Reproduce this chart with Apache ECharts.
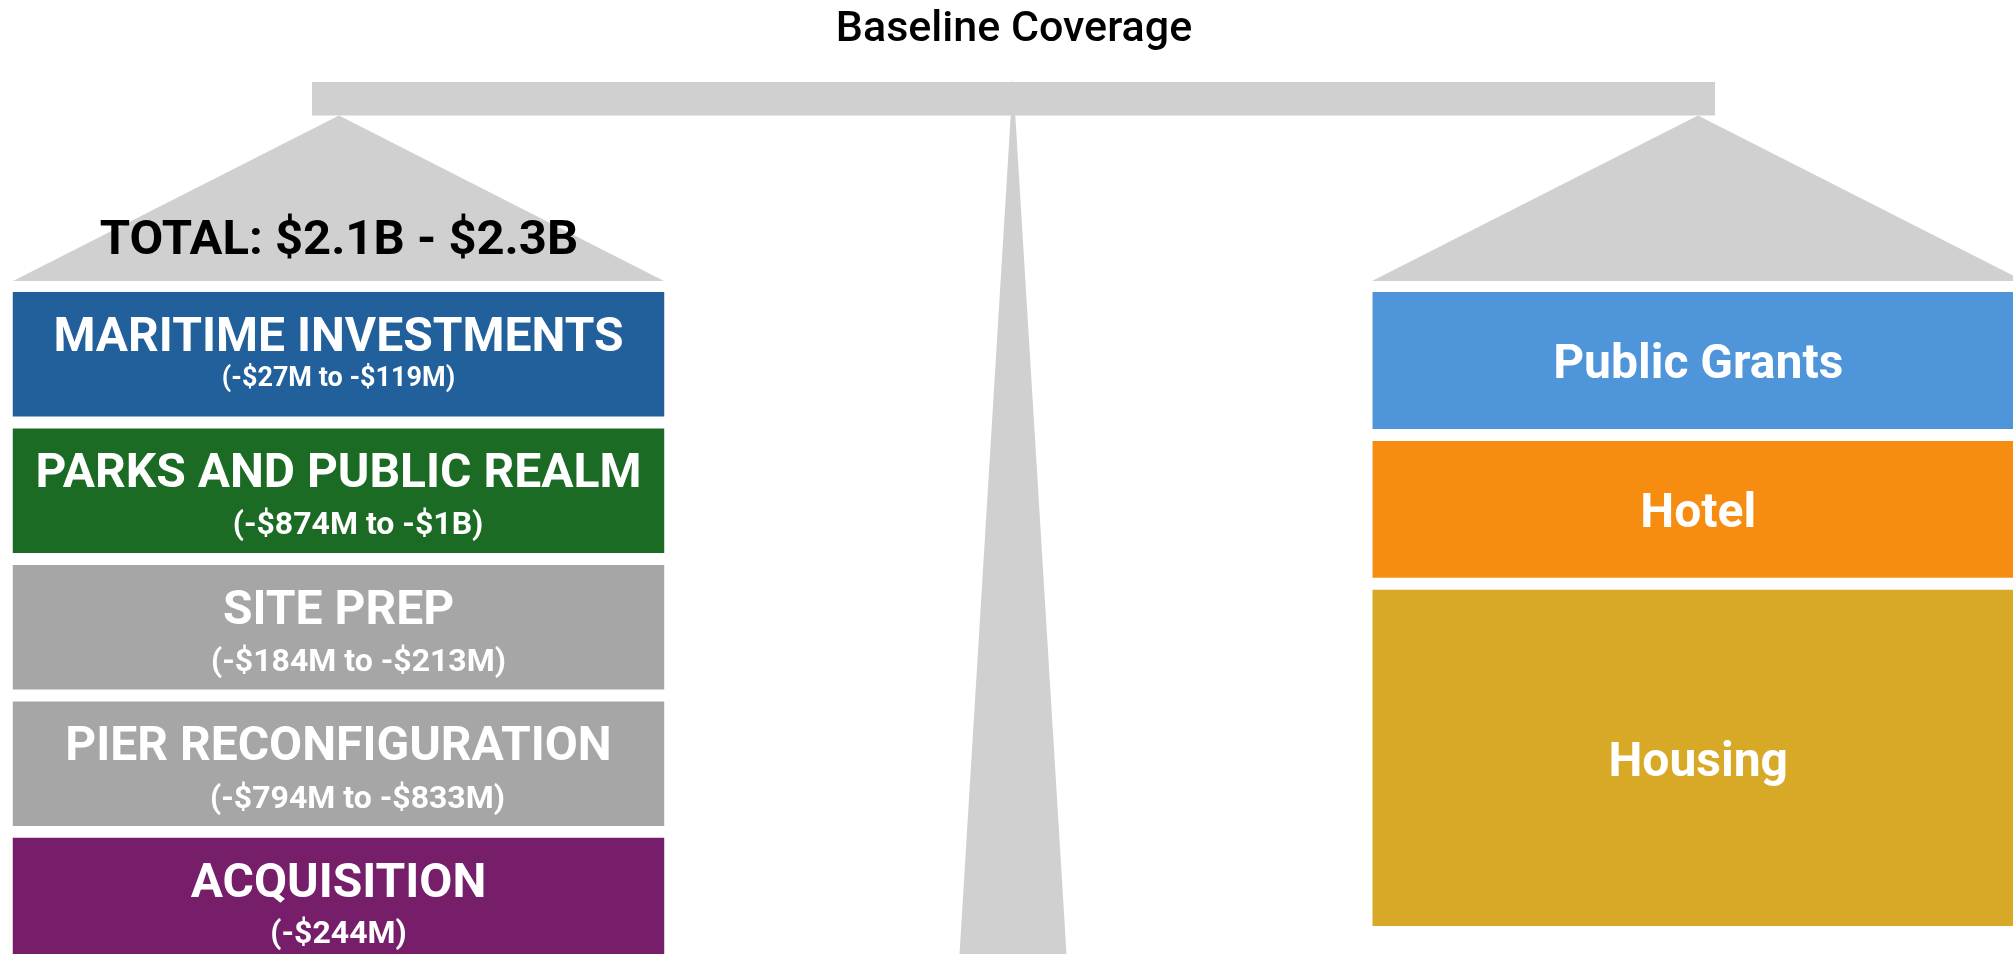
<!DOCTYPE html>
<html>
<head>
<meta charset="utf-8">
<script src="https://cdn.jsdelivr.net/npm/echarts@6/dist/echarts.min.js"></script>
<style>
  html, body { margin: 0; padding: 0; background: #ffffff; }
  #chart { width: 2013px; height: 954px; }
</style>
</head>
<body>
<div id="chart"></div>
<script>
// ---- Data ----
const chartTitle = 'Baseline Coverage';
const totalLabel = 'TOTAL: $2.1B - $2.3B';
const sides = ['Costs', 'Funding'];

const costNames = ['MARITIME INVESTMENTS', 'PARKS AND PUBLIC REALM', 'SITE PREP', 'PIER RECONFIGURATION', 'ACQUISITION'];
const costRanges = ['(-$27M to -$119M)', '(-$874M to -$1B)', '(-$184M to -$213M)', '(-$794M to -$833M)', '(-$244M)'];
const costSizes = [1, 1, 1, 1, 1];

const fundNames = ['Public Grants', 'Hotel', 'Housing'];
const fundSizes = [1.1, 1.1, 2.7];

// ---- Styles ----
const costColors = ['#21609B', '#1B6B25', '#A6A6A6', '#A6A6A6', '#761E6A'];
const fundColors = ['#4F95D9', '#F68D11', '#D8A827'];
const costSubFont = [27, 32, 32, 32, 32];
const costSubOffset = [87, 98, 98, 99, 97];
const costSubShift = [0, 19.5, 20, 19, 0];
const GAP = 0.096;
const scaleGrey = '#D0D0D0';
const FONT = 'Roboto, "Noto Sans", sans-serif';

// build stacked rows from sizes
const items = [];
function addStack(sideIdx, names, sizes, colors, subs) {
  let acc = 0;
  names.forEach((n, i) => {
    items.push({
      value: [sideIdx, acc, acc + sizes[i]],
      name: n,
      sub: subs ? subs[i] : null,
      idx: i,
      side: sideIdx,
      color: colors[i]
    });
    acc += sizes[i] + GAP;
  });
}
addStack(0, costNames, costSizes, costColors, costRanges);
addStack(1, fundNames, fundSizes, fundColors, null);

const chart = echarts.init(document.getElementById('chart'), null, { renderer: 'canvas' });

const option = {
  animation: false,
  backgroundColor: '#ffffff',
  grid: { left: 0, right: 0, top: 292, bottom: 0, containLabel: false },
  xAxis: { type: 'value', min: -0.24894, max: 1.23148, show: false },
  yAxis: { type: 'value', inverse: true, min: 0, max: 5.317, show: false },
  graphic: {
    elements: [
      { type: 'rect', shape: { x: 312, y: 82, width: 1403, height: 33.5 }, style: { fill: scaleGrey }, z: 1 },
      { type: 'polygon', shape: { points: [[1013, 78], [1066.5, 954], [959.5, 954]] }, style: { fill: scaleGrey }, z: 1 },
      { type: 'polygon', shape: { points: [[339, 115.5], [664, 281], [13, 281]] }, style: { fill: scaleGrey }, z: 1 },
      { type: 'polygon', shape: { points: [[1698, 115.5], [2024, 281], [1372, 281]] }, style: { fill: scaleGrey }, z: 1 },
      { type: 'text', x: 1014, y: 30, style: { text: chartTitle, fill: '#000000', font: '500 43px ' + FONT, textAlign: 'center', textVerticalAlign: 'middle' }, z: 5 },
      { type: 'text', x: 339, y: 242, style: { text: totalLabel, fill: '#000000', font: 'bold 49px ' + FONT, textAlign: 'center', textVerticalAlign: 'middle' }, z: 5 }
    ]
  },
  series: [{
    type: 'custom',
    clip: false,
    data: items.map(d => ({ value: d.value, name: d.name })),
    renderItem: function (params, api) {
      const it = items[params.dataIndex];
      const c = api.value(0);
      const p0 = api.coord([c, api.value(1)]);
      const p1 = api.coord([c, api.value(2)]);
      const unit = api.size([1, 0])[0];
      const w = unit * 0.4791;
      const x = p0[0] - w / 2;
      const y = p0[1];
      const h = p1[1] - p0[1];
      const children = [{
        type: 'rect',
        shape: { x: x, y: y, width: w, height: h },
        style: { fill: it.color }
      }];
      if (it.side === 0) {
        children.push({
          type: 'text',
          x: p0[0], y: y + 47,
          style: { text: it.name, fill: '#ffffff', font: 'bold 48px ' + FONT, textAlign: 'center', textVerticalAlign: 'middle' }
        });
        children.push({
          type: 'text',
          x: p0[0] + costSubShift[it.idx], y: y + costSubOffset[it.idx],
          style: { text: it.sub, fill: '#ffffff', font: 'bold ' + costSubFont[it.idx] + 'px ' + FONT, textAlign: 'center', textVerticalAlign: 'middle' }
        });
      } else {
        children.push({
          type: 'text',
          x: p0[0], y: y + h / 2 + 6,
          style: { text: it.name, fill: '#ffffff', font: 'bold 48px ' + FONT, textAlign: 'center', textVerticalAlign: 'middle' }
        });
      }
      return { type: 'group', children: children };
    }
  }]
};
chart.setOption(option);
</script>
</body>
</html>
